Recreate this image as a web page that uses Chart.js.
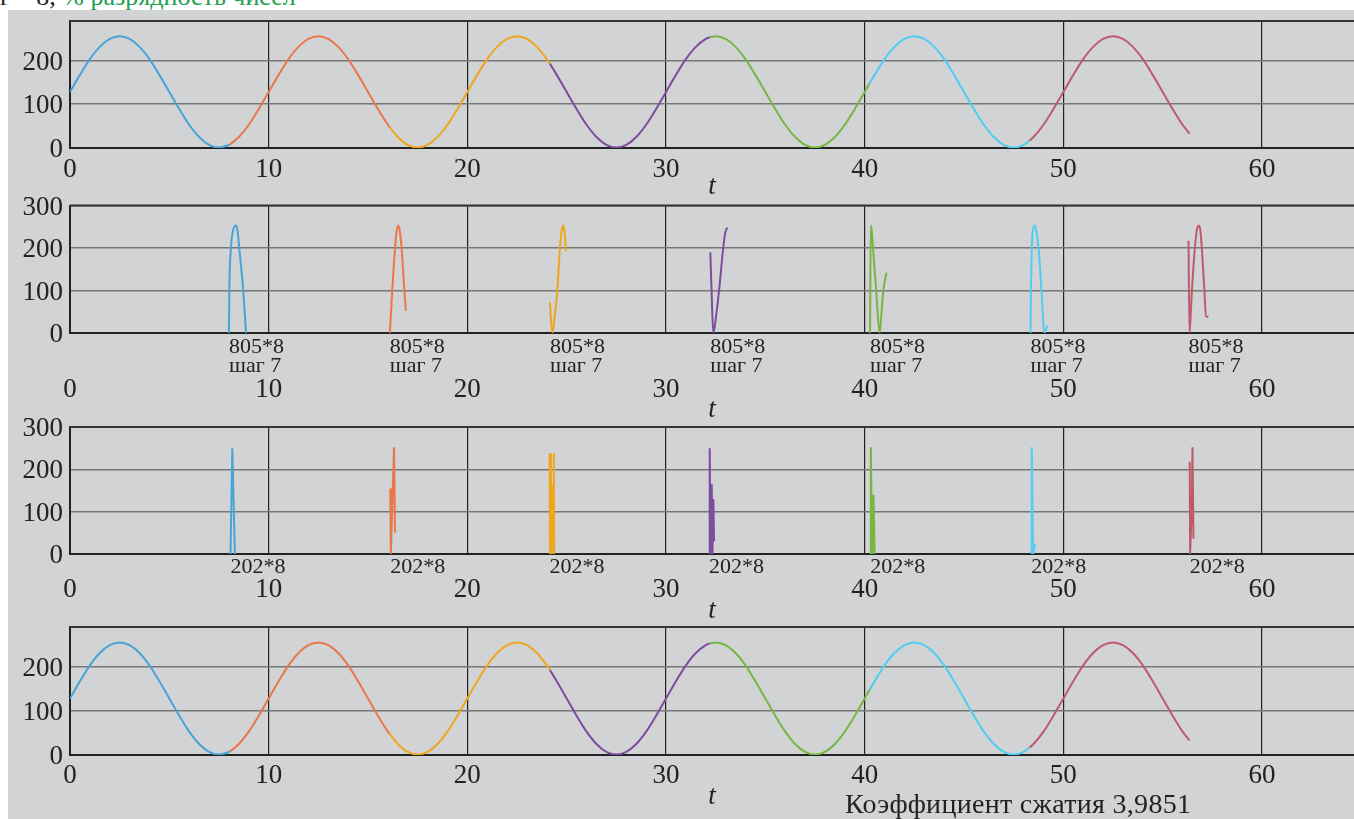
<!DOCTYPE html>
<html><head><meta charset="utf-8">
<script src="https://cdn.jsdelivr.net/npm/chart.js@4.4.1/dist/chart.umd.min.js"></script>
<style>
html,body{margin:0;padding:0;background:#fff;width:1354px;height:819px;overflow:hidden;position:relative;font-family:'Liberation Serif',serif;}
#bg{position:absolute;left:8px;top:10px;width:1346px;height:809px;background:#d2d3d5;}
canvas{position:absolute;left:8px;}
#head{position:absolute;left:0;top:-16px;font-size:26px;line-height:1;white-space:nowrap;color:#222;}
#head .c{color:#21a150;}
#ratio{position:absolute;left:845px;top:789.5px;font-size:28px;letter-spacing:0.3px;line-height:1;color:#222;white-space:nowrap;}
</style></head>
<body>
<div id="head">r = 8, <span class="c">% разрядность чисел</span></div>
<div id="bg"></div>
<canvas id="c1" width="1346" height="200" style="top:0px"></canvas>
<canvas id="c2" width="1346" height="240" style="top:185px"></canvas>
<canvas id="c3" width="1346" height="220" style="top:405px"></canvas>
<canvas id="c4" width="1346" height="214" style="top:605px"></canvas>
<div id="ratio"></div>
<script>
// ---------- data ----------
const segBounds = [0, 8.05, 16.1, 24.15, 32.2, 40.25, 48.3, 56.35];
const xTickValues = [0, 10, 20, 30, 40, 50, 60];
const yTicksTop = [0, 100, 200];
const yTicksMid = [0, 100, 200, 300];

const tSignal = [0,0.5,1,1.5,2,2.5,3,3.5,4,4.5,5,5.5,6,6.5,7,7.5,8,8.05,8.5,9,9.5,
 10,10.5,11,11.5,12,12.5,13,13.5,14,14.5,15,15.5,16,16.1,16.5,17,17.5,18,18.5,19,19.5,
 20,20.5,21,21.5,22,22.5,23,23.5,24,24.15,24.5,25,25.5,26,26.5,27,27.5,28,28.5,29,29.5,
 30,30.5,31,31.5,32,32.2,32.5,33,33.5,34,34.5,35,35.5,36,36.5,37,37.5,38,38.5,39,39.5,
 40,40.25,40.5,41,41.5,42,42.5,43,43.5,44,44.5,45,45.5,46,46.5,47,47.5,48,48.3,48.5,49,49.5,
 50,50.5,51,51.5,52,52.5,53,53.5,54,54.5,55,55.5,56,56.35];
const ySignal = [128,167,203,231,249,255,249,231,203,167,128,89,53,25,7,1,7,8,25,53,89,
 128,167,203,231,249,255,249,231,203,167,128,89,53,47,25,7,1,7,25,53,89,
 128,167,203,231,249,255,249,231,203,193,167,128,89,53,25,7,1,7,25,53,89,
 128,167,203,231,249,253,255,249,231,203,167,128,89,53,25,7,1,7,25,53,89,
 128,148,167,203,231,249,255,249,231,203,167,128,89,53,25,7,1,7,17,25,53,89,
 128,167,203,231,249,255,249,231,203,167,128,89,53,33];
// restored signal (bottom panel) reads the same as the original
const tRestored = tSignal;
const yRestored = ySignal;

const t805 = [
 [8.0, 8.02, 8.1, 8.2, 8.3, 8.36, 8.44, 8.52, 8.72, 8.86],
 [16.1, 16.22, 16.36, 16.44, 16.52, 16.6, 16.69, 16.83, 16.91],
 [24.16, 24.22, 24.29, 24.4, 24.53, 24.66, 24.75, 24.83, 24.9, 24.96],
 [32.23, 32.3, 32.38, 32.45, 32.67, 32.88, 32.98, 33.05, 33.11],
 [40.27, 40.31, 40.36, 40.42, 40.58, 40.75, 40.8, 40.94, 41.1],
 [48.35, 48.37, 48.41, 48.48, 48.56, 48.64, 48.75, 48.9, 49.04, 49.12, 49.19],
 [56.3, 56.35, 56.47, 56.62, 56.73, 56.83, 56.9, 56.97, 57.1, 57.18, 57.3]
];
const y805 = [
 [0, 100, 200, 240, 252, 253, 238, 200, 100, 0],
 [0, 100, 200, 240, 253, 240, 200, 100, 52],
 [72, 25, 0, 40, 100, 200, 240, 253, 235, 192],
 [190, 90, 0, 15, 100, 200, 235, 245, 247],
 [0, 253, 240, 200, 100, 0, 20, 100, 142],
 [0, 100, 200, 245, 253, 240, 200, 100, 0, 8, 17],
 [217, 0, 100, 200, 245, 253, 240, 200, 100, 38, 38]
];
const t202 = [
 [8.08, 8.17, 8.3],
 [16.12, 16.15, 16.31, 16.36],
 [24.14, 24.16, 24.18, 24.21, 24.24, 24.33, 24.35, 24.37],
 [32.17, 32.2, 32.24, 32.3, 32.34, 32.38, 32.42],
 [40.28, 40.31, 40.38, 40.45, 40.5],
 [48.38, 48.41, 48.48, 48.53, 48.56],
 [56.36, 56.38, 56.46, 56.5, 56.55]
];
const y202 = [
 [0, 250, 0],
 [155, 0, 252, 51],
 [238, 0, 238, 0, 165, 0, 238, 0],
 [0, 250, 0, 165, 0, 130, 30],
 [0, 252, 0, 140, 0],
 [0, 252, 0, 15, 25],
 [218, 0, 100, 252, 36]
];
const note805 = ['805*8', 'шаг 7'];
const note202 = ['202*8'];
const axisTitle = 't';
const ratioText = 'Коэффициент сжатия 3,9851';

// ---------- styles ----------
const segColors = ['#4aa3d6','#e9774a','#eea61e','#7e4c9e','#77b643','#50cdf1','#bf5a6d'];
const FONT = 'Liberation Serif';

document.getElementById('ratio').textContent = ratioText;

function splitSignal(ts, ys) {
  const out = [];
  for (let i = 0; i < segBounds.length - 1; i++) {
    const pts = [];
    ts.forEach((t, k) => { if (t >= segBounds[i] && t <= segBounds[i + 1]) pts.push({x: t, y: ys[k]}); });
    out.push(pts);
  }
  return out;
}
function pairs(tArr, yArr) {
  return tArr.map((ts, i) => ts.map((t, k) => ({x: t, y: yArr[i][k]})));
}

const framePlugin = {
  id: 'frame',
  afterDraw(chart) {
    const {ctx, chartArea: a} = chart;
    ctx.save();
    ctx.strokeStyle = '#333'; ctx.lineWidth = 2;
    ctx.beginPath(); ctx.moveTo(a.left, a.top); ctx.lineTo(a.right, a.top); ctx.stroke();
    ctx.restore();
  }
};
const notesPlugin = {
  id: 'notes',
  afterDraw(chart, args, opts) {
    if (!opts || !opts.lines) return;
    const ctx = chart.ctx, xs = chart.scales.x, b = chart.chartArea.bottom;
    ctx.save();
    ctx.font = '22px "' + FONT + '"';
    ctx.fillStyle = '#222'; ctx.textAlign = 'left'; ctx.textBaseline = 'alphabetic';
    opts.starts.forEach(t => {
      const px = xs.getPixelForValue(t);
      opts.lines.forEach((s, j) => ctx.fillText(s, px, b + opts.offsets[j]));
    });
    ctx.restore();
  }
};

const panels = [
  {id:'c1', top:0,   h:200, plotTop:21,  axisH:52, yMax:290, yTicks:yTicksTop, tickPad:8, titlePad:0,
   series: splitSignal(tSignal, ySignal), smooth:true, notes:null},
  {id:'c2', top:185, h:240, plotTop:205, axisH:92, yMax:300, yTicks:yTicksMid, tickPad:43.5, titlePad:2,
   series: pairs(t805, y805), smooth:true, notes:{lines:note805, starts:t805.map(a=>a[0]), offsets:[20,39]}},
  {id:'c3', top:405, h:220, plotTop:427, axisH:71, yMax:300, yTicks:yTicksMid, tickPad:22.5, titlePad:0.5,
   series: pairs(t202, y202), smooth:false, notes:{lines:note202, starts:t202.map(a=>a[0]), offsets:[19]}},
  {id:'c4', top:605, h:214, plotTop:627, axisH:64, yMax:290, yTicks:yTicksTop, tickPad:7.5, titlePad:8.5,
   series: splitSignal(tRestored, yRestored), smooth:true, notes:null}
];

panels.forEach(p => {
  const datasets = p.series.map((pts, i) => ({
    data: pts,
    borderColor: segColors[i],
    borderWidth: 2,
    pointRadius: 0,
    fill: false,
    cubicInterpolationMode: p.smooth ? 'monotone' : 'default',
    tension: 0
  }));
  new Chart(document.getElementById(p.id), {
    type: 'line',
    data: {datasets},
    plugins: [framePlugin, notesPlugin],
    options: {
      responsive: false, animation: false, devicePixelRatio: 1, events: [],
      layout: {padding: {top: p.plotTop - p.top, left: 0, right: 0, bottom: 0}},
      plugins: {legend: {display: false}, tooltip: {enabled: false}, notes: p.notes || {}},
      scales: {
        x: {
          type: 'linear', min: 0, max: 64.63,
          afterBuildTicks: s => { s.ticks = xTickValues.map(v => ({value: v})); },
          afterFit: s => { s.height = p.axisH; },
          grid: {color: '#222', lineWidth: 1.2, drawTicks: false},
          border: {display: true, color: '#222', width: 2},
          ticks: {font: {family: FONT, size: 27, lineHeight: 1}, color: '#222', padding: p.tickPad,
                  maxRotation: 0, autoSkip: false},
          title: {display: true, text: axisTitle, color: '#222',
                  font: {family: FONT, size: 27, style: 'italic', lineHeight: 1},
                  padding: {top: 0, bottom: p.titlePad}}
        },
        y: {
          type: 'linear', min: 0, max: p.yMax,
          afterBuildTicks: s => { s.ticks = p.yTicks.map(v => ({value: v})); },
          afterFit: s => { s.width = 62; },
          grid: {color: '#777', lineWidth: 1.5, drawTicks: false},
          border: {display: true, color: '#222', width: 2},
          ticks: {font: {family: FONT, size: 27, lineHeight: 1}, color: '#222', padding: 7, labelOffset: 2}
        }
      }
    }
  });
});
</script>
</body></html>
